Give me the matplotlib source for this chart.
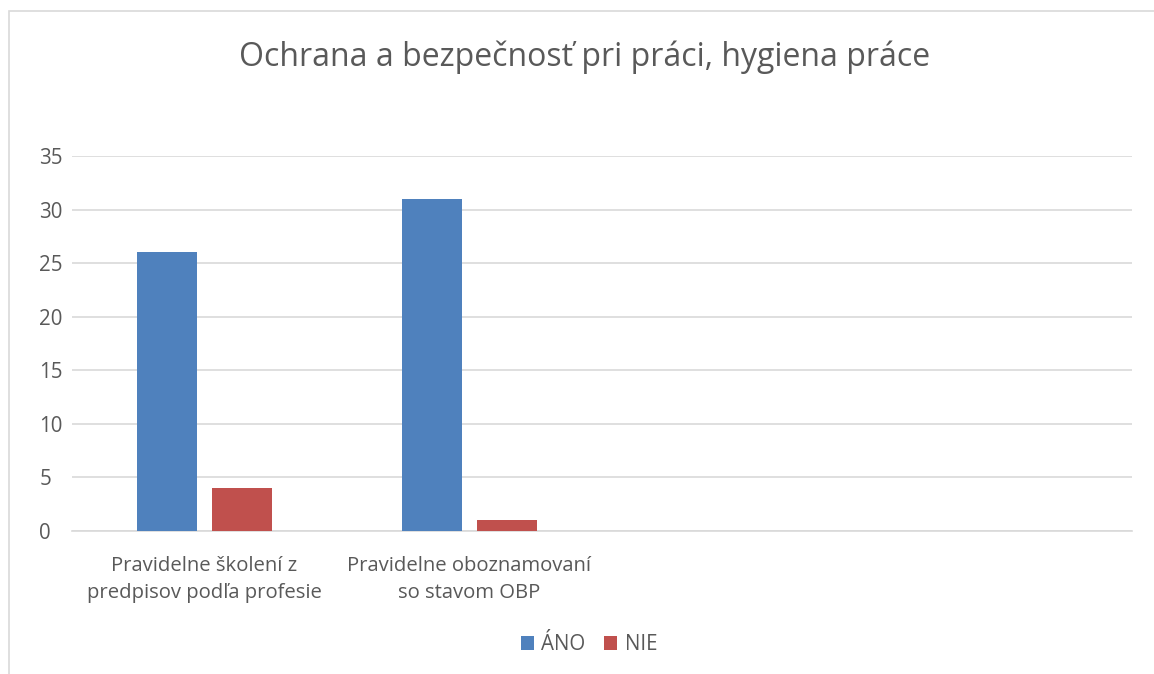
import matplotlib.pyplot as plt
import numpy as np
from matplotlib.patches import Rectangle

plt.rcParams['font.family'] = ['Open Sans', 'DejaVu Sans']

# data
categories = ['Pravidelne školení z\npredpisov podľa profesie',
              'Pravidelne oboznamovaní\nso stavom OBP', '', '']
ano_values = [26, 31, np.nan, np.nan]
nie_values = [4, 1, np.nan, np.nan]
series_names = ['ÁNO', 'NIE']
y_ticks = [0, 5, 10, 15, 20, 25, 30, 35]

text_color = '#595959'
grid_color = '#d9d9d9'

fig = plt.figure(figsize=(11.54, 6.74), dpi=100)
fig.patch.set_facecolor('white')

# chart outer border (cropped on right/bottom)
fig.patches.append(Rectangle((9 / 1154, -0.1), 1.2, (674 - 11) / 674 + 0.1,
                             transform=fig.transFigure, fill=False,
                             edgecolor=grid_color, linewidth=1.2))

ax = fig.add_axes([72 / 1154, (674 - 531) / 674, (1132 - 72) / 1154, (531 - 156) / 674])

x = np.arange(len(categories))
w = 0.226
off = 0.143
ax.bar(x - off, ano_values, w, color='#4f81bd', label=series_names[0], zorder=3)
ax.bar(x + off, nie_values, w, color='#c0504d', label=series_names[1], zorder=3)

ax.set_xlim(-0.5, len(categories) - 0.5)
ax.set_ylim(0, 35)
ax.set_yticks(y_ticks)
ax.set_xticks(x)
ax.set_xticklabels(categories, fontsize=14.6, color=text_color, linespacing=1.45)
ax.tick_params(axis='y', labelsize=14.8, colors=text_color, length=0, pad=23.5)
ax.tick_params(axis='x', length=0, pad=18)
for lbl in ax.get_yticklabels():
    lbl.set_horizontalalignment('left')
ax.grid(axis='y', color=grid_color, linewidth=1.2, zorder=0)
for s in ['top', 'right', 'left']:
    ax.spines[s].set_visible(False)
ax.spines['bottom'].set_color(grid_color)
ax.spines['bottom'].set_linewidth(1.2)

fig.text(585 / 1154, 1 - 57 / 674, 'Ochrana a bezpečnosť pri práci, hygiena práce',
         ha='center', va='center', fontsize=23, color=text_color)

fig.legend(loc='center', bbox_to_anchor=(589 / 1154, 1 - 645 / 674), ncol=2,
           frameon=False, fontsize=14.8, labelcolor=text_color,
           handlelength=0.65, handleheight=0.65, handletextpad=0.35, columnspacing=0.9)

fig.savefig('out.png', dpi=100)
